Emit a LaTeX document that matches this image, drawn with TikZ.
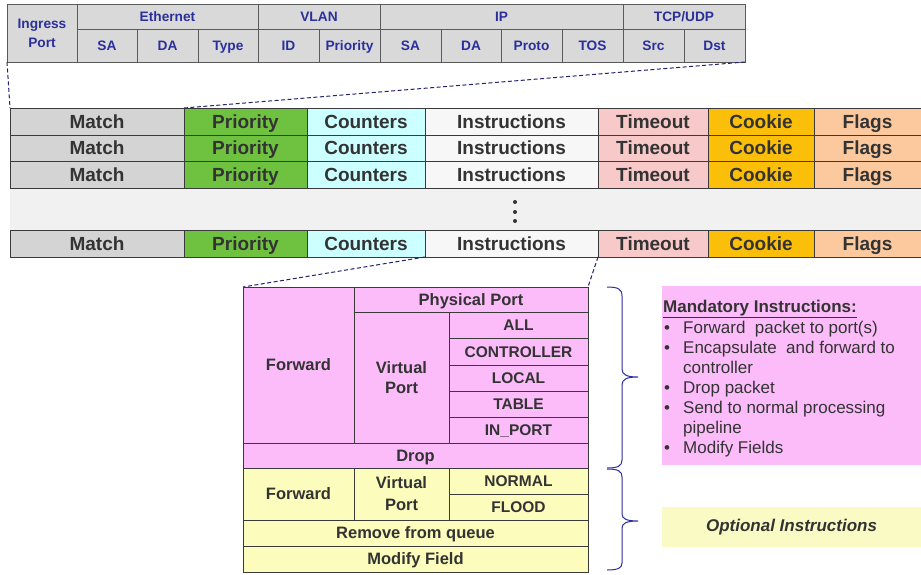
\documentclass[tikz,border=0pt]{standalone}
\usepackage{fontspec}
\setmainfont{Liberation Sans}
\definecolor{hdrgray}{HTML}{D9D9D9}
\definecolor{hdrblue}{HTML}{2B2F9C}
\definecolor{hdrline}{HTML}{5A5A5A}
\definecolor{rowline}{HTML}{3A3A3A}
\definecolor{txt}{HTML}{333333}
\definecolor{matchgray}{HTML}{D4D4D4}
\definecolor{prigreen}{HTML}{6FC23F}
\definecolor{countcyan}{HTML}{CCFFFF}
\definecolor{instrwhite}{HTML}{F7F7F7}
\definecolor{timepink}{HTML}{F8C9C9}
\definecolor{cookieor}{HTML}{FBBF0A}
\definecolor{flagsor}{HTML}{FCC99F}
\definecolor{pinkbox}{HTML}{FBBCF9}
\definecolor{yelbox}{HTML}{FCFCBC}
\definecolor{optyel}{HTML}{FAFAC4}
\definecolor{band}{HTML}{F1F1F1}
\definecolor{navy}{HTML}{22226E}
\definecolor{bracecol}{HTML}{2E2E9E}
\newcommand\cellbox[7]{%
  \node[#6, minimum width={(#4-#2)*1pt}, minimum height={(#5-#3)*1pt}] (#1) at ({(#2+#4)/2},{(#3+#5)/2}) {#7};}
\tikzset{
  hdr/.style={draw=hdrline, line width=0.8pt, fill=hdrgray, inner sep=0pt, outer sep=0pt,
    font=\fontsize{13.7}{19}\selectfont\bfseries, text=hdrblue, align=center,
    text height=9.8pt, text depth=0pt},
  rowc/.style={draw=rowline, line width=0.9pt, inner sep=0pt, outer sep=0pt,
    font=\fontsize{19}{22}\selectfont\bfseries, text=txt,
    text height=13.6pt, text depth=0pt},
  insc/.style={draw=rowline, line width=0.8pt, inner sep=0pt, outer sep=0pt,
    font=\fontsize{16.5}{20}\selectfont\bfseries, text=txt, align=center,
    text height=11.8pt, text depth=0pt},
  subc/.style={insc, font=\fontsize{15.5}{20}\selectfont\bfseries, text height=11.1pt},
  multi/.style={text height={}, text depth={}},
  conn/.style={draw=navy, line width=1pt, dash pattern=on 4pt off 2.5pt},
  bracest/.style={draw=bracecol, line width=1pt},
  mtxt/.style={inner sep=0pt, anchor=base west, font=\fontsize{17}{20}\selectfont, text=txt},
}
\begin{document}
\begin{tikzpicture}[x=1pt,y=-1pt]
\useasboundingbox[fill=white] (0,0) rectangle (921,574);
% header
\cellbox{hIng}{7}{4}{77}{62}{hdr, multi}{Ingress\\Port}
\cellbox{hEth}{77}{4}{258}{29}{hdr}{Ethernet}
\cellbox{hESA}{77}{29}{137}{62}{hdr}{SA}
\cellbox{hEDA}{137}{29}{198}{62}{hdr}{DA}
\cellbox{hEType}{198}{29}{258}{62}{hdr}{Type}
\cellbox{hVlan}{258}{4}{380}{29}{hdr}{VLAN}
\cellbox{hVID}{258}{29}{319}{62}{hdr}{ID}
\cellbox{hVPri}{319}{29}{380}{62}{hdr}{Priority}
\cellbox{hIP}{380}{4}{623}{29}{hdr}{IP}
\cellbox{hISA}{380}{29}{441}{62}{hdr}{SA}
\cellbox{hIDA}{441}{29}{501}{62}{hdr}{DA}
\cellbox{hIProto}{501}{29}{562}{62}{hdr}{Proto}
\cellbox{hITOS}{562}{29}{623}{62}{hdr}{TOS}
\cellbox{hTcp}{623}{4}{745}{29}{hdr}{TCP/UDP}
\cellbox{hSrc}{623}{29}{684}{62}{hdr}{Src}
\cellbox{hDst}{684}{29}{745}{62}{hdr}{Dst}
% band between rows
\fill[band] (10,188) rectangle (921,230);
% flow table rows
\foreach \r/\ya/\yb in {1/108/135, 2/135/161, 3/161/188, 4/230/257}{
  \cellbox{match\r}{10}{\ya}{184}{\yb}{rowc, fill=matchgray}{Match}
  \cellbox{prio\r}{184}{\ya}{307}{\yb}{rowc, fill=prigreen}{Priority}
  \cellbox{count\r}{307}{\ya}{425}{\yb}{rowc, fill=countcyan}{Counters}
  \cellbox{instr\r}{425}{\ya}{598}{\yb}{rowc, fill=instrwhite}{Instructions}
  \cellbox{time\r}{598}{\ya}{708}{\yb}{rowc, fill=timepink}{Timeout}
  \cellbox{cookie\r}{708}{\ya}{814}{\yb}{rowc, fill=cookieor}{Cookie}
  \cellbox{flags\r}{814}{\ya}{921}{\yb}{rowc, fill=flagsor}{Flags}
}
\foreach \yy in {202,212,221}{\fill[txt] (515,\yy) circle (2);}
% instruction box (mandatory, pink)
\cellbox{fwdA}{243}{287}{354}{443}{insc, fill=pinkbox}{Forward}
\cellbox{phys}{354}{287}{588}{312}{insc, fill=pinkbox}{Physical Port}
\cellbox{vpA}{354}{312}{449}{443}{insc, multi, fill=pinkbox}{Virtual\\Port}
\cellbox{vAll}{449}{312}{588}{338}{subc, fill=pinkbox}{ALL}
\cellbox{vCtl}{449}{338}{588}{365}{subc, fill=pinkbox}{CONTROLLER}
\cellbox{vLoc}{449}{365}{588}{391}{subc, fill=pinkbox}{LOCAL}
\cellbox{vTab}{449}{391}{588}{417}{subc, fill=pinkbox}{TABLE}
\cellbox{vIn}{449}{417}{588}{443}{subc, fill=pinkbox}{IN\_PORT}
\cellbox{drop}{243}{443}{588}{468}{insc, fill=pinkbox}{Drop}
% optional (yellow)
\cellbox{fwdB}{243}{468}{354}{520}{insc, fill=yelbox}{Forward}
\cellbox{vpB}{354}{468}{449}{520}{insc, multi, fill=yelbox, font=\fontsize{16.5}{22}\selectfont\bfseries}{Virtual\\Port}
\cellbox{vNorm}{449}{468}{588}{494}{subc, fill=yelbox}{NORMAL}
\cellbox{vFlood}{449}{494}{588}{520}{subc, fill=yelbox}{FLOOD}
\cellbox{remq}{243}{520}{588}{546}{insc, fill=yelbox}{Remove from queue}
\cellbox{modf}{243}{546}{588}{572}{insc, fill=yelbox}{Modify Field}
% dashed connectors
\draw[conn] (hIng.south west) -- (match1.north west);
\draw[conn] (hDst.south east) -- (prio1.north west);
\draw[conn] (count4.south east) -- (fwdA.north west);
\draw[conn] (instr4.south east) -- (phys.north east);
% braces
\draw[bracest] (607,287) .. controls (618,287) and (622,289) .. (622,296) -- (622,369)
  .. controls (622,375) and (627,377) .. (638,377)
  .. controls (627,377) and (622,379) .. (622,385) -- (622,460)
  .. controls (622,466) and (618,468) .. (607,468);
\draw[bracest] (607,469) .. controls (618,469) and (622,471) .. (622,477) -- (622,514)
  .. controls (622,519) and (627,521) .. (638,521)
  .. controls (627,521) and (622,523) .. (622,528) -- (622,563)
  .. controls (622,568) and (618,570) .. (607,570);
% mandatory box
\node[fill=pinkbox, inner sep=0pt, minimum width=259pt, minimum height=179pt] (mand) at (791.5,375.5) {};
\node[mtxt, font=\fontsize{17}{20}\selectfont\bfseries] (mtitle) at (663,312) {\underline{Mandatory Instructions:}};
\foreach \n/\yy/\t in {1/333/{Forward\ \ packet to port(s)}, 2/353/{Encapsulate\ \ and forward to}, 4/393/{Drop packet}, 5/413/{Send to normal processing}, 7/453/{Modify Fields}}{
  \node[mtxt] (mb\n) at (664,\yy) {•};
  \node[mtxt] (mi\n) at (683,\yy) {\t};
}
\node[mtxt] (mi3) at (683,373) {controller};
\node[mtxt] (mi6) at (683,433) {pipeline};
% optional box
\node[fill=optyel, inner sep=0pt, minimum width=259pt, minimum height=40pt,
  font=\fontsize{17}{20}\selectfont\bfseries\itshape, text=txt] (opt) at (791.5,527) {Optional Instructions};
\end{tikzpicture}
\end{document}
